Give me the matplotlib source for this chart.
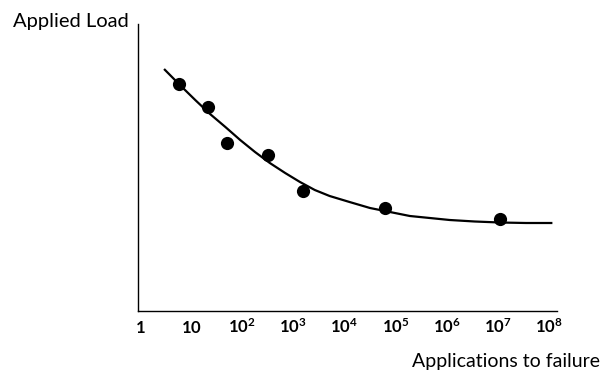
import matplotlib
matplotlib.use("Agg")
import matplotlib.pyplot as plt
import numpy as np

# Data (x in applications to failure, y in arbitrary load units)
point_x = [10**0.76, 10**1.33, 10**1.70, 10**2.50, 10**3.18, 10**4.80, 10**7.05]
point_y = [227, 204, 168, 156, 120, 103, 92]

curve_x = [10**0.47, 10**0.78, 10**1.08, 10**1.37, 10**1.67, 10**1.96, 10**2.25,
           10**2.54, 10**2.84, 10**3.13, 10**3.42, 10**3.71, 10**4.10, 10**4.50,
           10**4.89, 10**5.28, 10**5.67, 10**6.06, 10**6.55, 10**7.04, 10**7.55,
           10**8.07]
curve_y = [242, 226, 211, 197, 184, 171, 159, 148, 138, 129, 121, 115, 109, 103,
           99, 95, 93, 91, 89.5, 88.5, 88, 88]

tick_values = [1, 10, 1e2, 1e3, 1e4, 1e5, 1e6, 1e7, 1e8]
tick_labels = ['$1$', '$10$', '$10^{2}$', '$10^{3}$', '$10^{4}$', '$10^{5}$',
               '$10^{6}$', '$10^{7}$', '$10^{8}$']

plt.rcParams['font.family'] = ['Lato', 'DejaVu Sans']
plt.rcParams['mathtext.fontset'] = 'custom'
plt.rcParams['mathtext.rm'] = 'Lato:bold'
plt.rcParams['mathtext.it'] = 'Lato:bold'
plt.rcParams['mathtext.bf'] = 'Lato:bold'

fig = plt.figure(figsize=(6.03, 3.81), dpi=100)
ax = fig.add_axes([138/603, 1-311/381, (557-138)/603, (311-24)/381])

ax.plot(curve_x, curve_y, color='black', lw=1.6, solid_capstyle='butt',
        solid_joinstyle='round')
ax.plot(point_x, point_y, 'o', color='black', markersize=9.5, markeredgewidth=0)

ax.set_xscale('log')
ax.set_xlim(10**-0.04, 10**8.16)
ax.set_ylim(0, 287)
ax.set_xticks(tick_values)
ax.set_xticklabels(tick_labels, fontsize=12)
for lbl in ax.get_xticklabels():
    lbl.set_verticalalignment('baseline')
ax.minorticks_off()
ax.tick_params(axis='x', length=0, pad=15.5)
ax.set_yticks([])
for s in ['top', 'right']:
    ax.spines[s].set_visible(False)
for s in ['left', 'bottom']:
    ax.spines[s].set_linewidth(1.0)
    ax.spines[s].set_color('black')

fig.text(13/603, 1-22/381, 'Applied Load', fontsize=14.5, ha='left', va='center')
fig.text(600/603, 1-361/381, 'Applications to failure', fontsize=14, ha='right', va='center')

fig.savefig('out.png', dpi=100)
